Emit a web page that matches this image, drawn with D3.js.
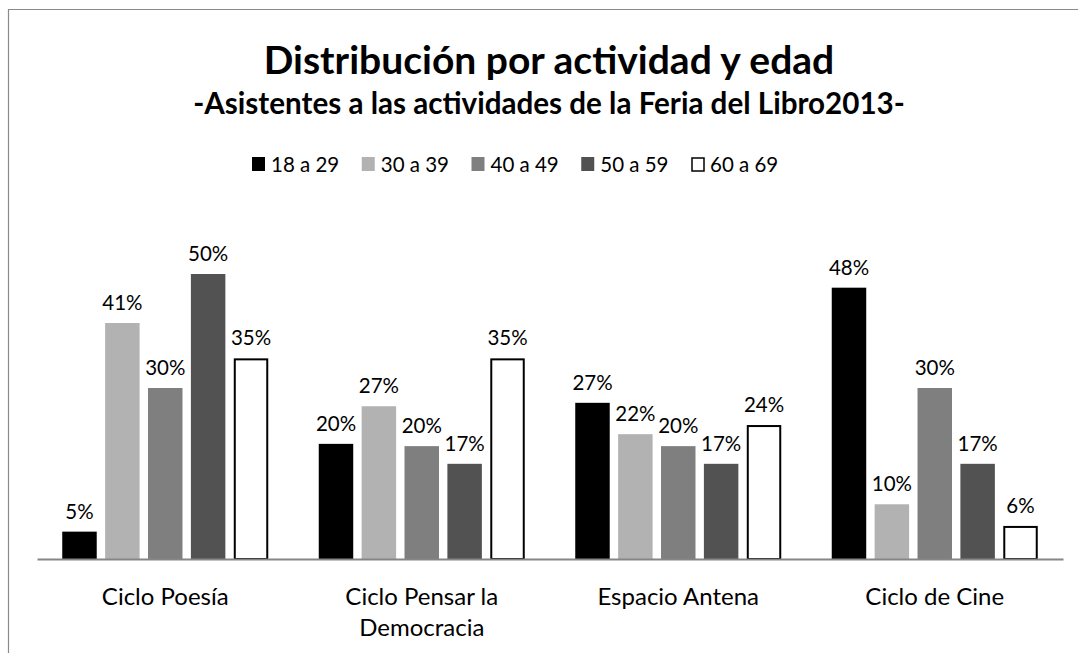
<!DOCTYPE html>
<html><head><meta charset="utf-8">
<script src="https://cdn.jsdelivr.net/npm/d3@7"></script>
<style>
html,body{margin:0;padding:0;background:#fff;}
svg{display:block;font-family:Lato,"Open Sans",sans-serif;}
</style></head>
<body>
<svg id="chart" width="1078" height="653"></svg>
<script>
const categories = [["Ciclo Poesía"], ["Ciclo Pensar la", "Democracia"], ["Espacio Antena"], ["Ciclo de Cine"]];
const categoryKeys = ["Ciclo Poesía", "Ciclo Pensar la Democracia", "Espacio Antena", "Ciclo de Cine"];
const seriesNames = ["18 a 29", "30 a 39", "40 a 49", "50 a 59", "60 a 69"];
const s18_29 = [4.8, 20.2, 27.4, 47.6];
const s30_39 = [41.4, 26.8, 21.9, 9.6];
const s40_49 = [30.0, 19.8, 19.8, 30.0];
const s50_59 = [50.0, 16.7, 16.7, 16.7];
const s60_69 = [35.2, 35.2, 23.5, 5.8];
const seriesValues = [s18_29, s30_39, s40_49, s50_59, s60_69];
const seriesFill = ["#000000", "#b2b2b2", "#7f7f7f", "#525252", "#ffffff"];
const title = "Distribución por actividad y edad";
const subtitle = "-Asistentes a las actividades de la Feria del Libro2013-";

const svg = d3.select("#chart");

// frame
svg.append("path").attr("d", "M8.5,653 L8.5,9.5 L1078,9.5")
  .attr("fill", "none").attr("stroke", "#8a8a8a").attr("stroke-width", 1.2);

const x0 = d3.scaleBand().domain(categoryKeys).range([37, 1063]).padding(0);
const groupW = 206;
const x1 = d3.scaleBand().domain(seriesNames)
  .range([x0.bandwidth()/2 - groupW/2, x0.bandwidth()/2 + groupW/2])
  .paddingInner(0.196).paddingOuter(0);
const y = d3.scaleLinear().domain([0, 60]).range([559, 217]);

// titles
svg.append("text").attr("x", 549).attr("y", 74).attr("text-anchor", "middle")
  .attr("font-weight", "bold").attr("font-size", 39).attr("fill", "#000").text(title);
svg.append("text").attr("x", 549).attr("y", 114).attr("text-anchor", "middle")
  .attr("font-weight", "bold").attr("font-size", 29.6).attr("fill", "#000").text(subtitle);

// legend
const legendX = d3.scaleLinear().domain([0, 4]).range([252, 691]);
const lg = svg.append("g");
seriesNames.forEach((n, i) => {
  const g = lg.append("g").attr("transform", `translate(${legendX(i)},0)`);
  g.append("rect").attr("x", i === 4 ? 1 : 0).attr("y", i === 4 ? 158 : 157)
    .attr("width", i === 4 ? 12 : 13).attr("height", i === 4 ? 13 : 14)
    .attr("fill", seriesFill[i])
    .attr("stroke", i === 4 ? "#000" : "none").attr("stroke-width", 1.5);
  g.append("text").attr("x", 19).attr("y", 172).attr("font-size", 20.5).attr("fill", "#000").text(n);
});

// bars
const groups = svg.append("g").selectAll("g").data(categoryKeys).join("g")
  .attr("transform", d => `translate(${x0(d)},0)`);
groups.each(function(cat, ci) {
  const g = d3.select(this);
  seriesNames.forEach((sn, si) => {
    const v = seriesValues[si][ci];
    const isWhite = si === 4;
    g.append("rect")
      .attr("x", x1(sn) + (isWhite ? 1 : 0))
      .attr("y", y(v) + (isWhite ? 1 : 0))
      .attr("width", x1.bandwidth() - (isWhite ? 2 : 0))
      .attr("height", y(0) - y(v) - (isWhite ? 1 : 0))
      .attr("fill", seriesFill[si])
      .attr("stroke", isWhite ? "#000" : "none")
      .attr("stroke-width", 2);
    g.append("text")
      .attr("x", x1(sn) + x1.bandwidth()/2)
      .attr("y", y(v) - 13)
      .attr("text-anchor", "middle").attr("font-size", 20.5).attr("fill", "#000")
      .text(Math.round(v) + "%");
  });
});

// axis
const axis = svg.append("g").attr("transform", `translate(0,${y(0)})`)
  .call(d3.axisBottom(x0).tickSize(0).tickFormat(""));
axis.select(".domain").attr("stroke", "#868686").attr("stroke-width", 2);

// category labels
categoryKeys.forEach((k, i) => {
  const t = svg.append("text").attr("x", x0(k) + x0.bandwidth()/2).attr("y", 605)
    .attr("text-anchor", "middle").attr("font-size", 24).attr("fill", "#000");
  categories[i].forEach((line, li) => {
    t.append("tspan").attr("x", x0(k) + x0.bandwidth()/2).attr("dy", li === 0 ? 0 : 31).text(line);
  });
});
</script>
</body></html>
